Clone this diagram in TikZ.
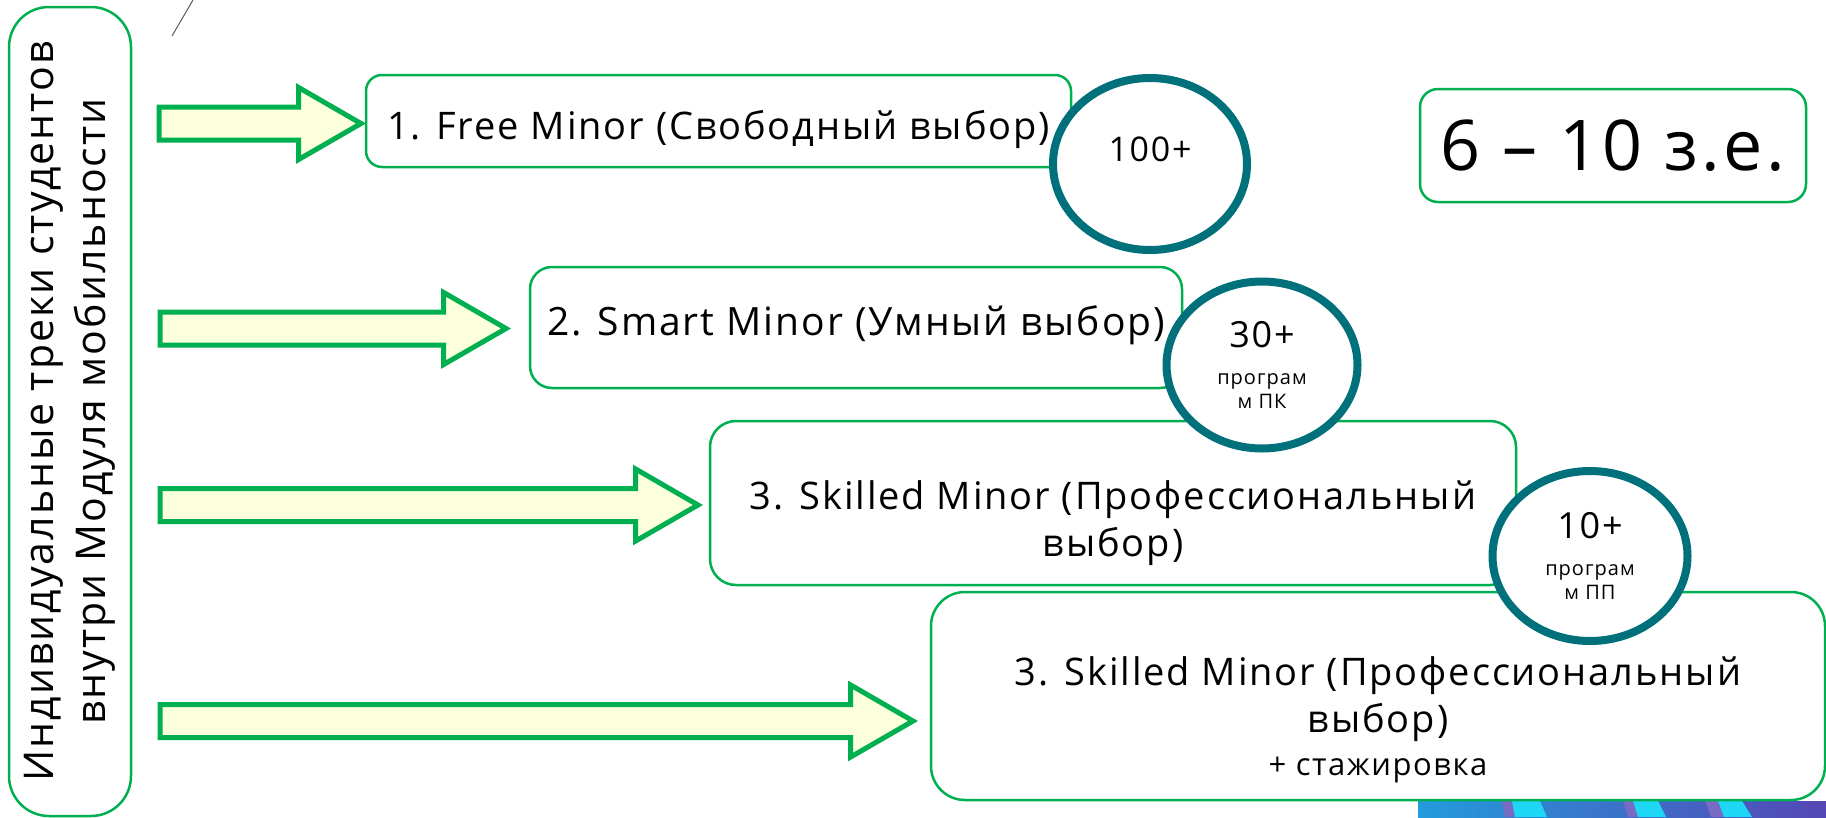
\documentclass[tikz,border=0pt]{standalone}
\usepackage{fontspec}
\setmainfont[LetterSpace=5]{Open Sans}
\usetikzlibrary{shapes.geometric,shapes.arrows}
\definecolor{trackgreen}{RGB}{0,176,80}
\definecolor{arrowfill}{RGB}{252,255,220}
\definecolor{ringteal}{RGB}{0,112,122}
\definecolor{stripeblue}{RGB}{35,155,220}
\definecolor{stripeviolet}{RGB}{85,70,180}
\definecolor{stripecyan}{RGB}{30,215,245}
\newcommand{\fsz}[2]{\fontsize{#1}{#2}\selectfont}
\tikzstyle{track}=[draw=trackgreen, line width=2.5pt, fill=white, rounded corners=18pt, inner sep=0, align=center]
\tikzstyle{ring}=[draw=ringteal, line width=8pt, fill=white, ellipse, inner sep=0, align=center]
\tikzstyle{bigarrow}=[draw=trackgreen, line width=5pt, fill=arrowfill, single arrow,
                      single arrow tip angle=60, single arrow head extend=19.5pt,
                      inner xsep=0, inner ysep=14pt, anchor=tail]

\begin{document}
\begin{tikzpicture}[x=1pt, y=-1pt]
        \useasboundingbox (0,0) rectangle (1826,817);
        % decoration at the bottom edge
        \shade[left color=stripeblue, right color=stripeviolet] (1418,801) rectangle (1826,817);
        \fill[stripeviolet!80] (1502,801) -- (1512,801) -- (1515,817) -- (1505,817) -- cycle;
        \fill[stripecyan] (1512,801) -- (1540,801) -- (1547,817) -- (1515,817) -- cycle;
        \fill[stripeviolet!80] (1623,801) -- (1633,801) -- (1638,817) -- (1628,817) -- cycle;
        \fill[stripecyan] (1633,801) -- (1658,801) -- (1666,817) -- (1638,817) -- cycle;
        \fill[stripeviolet!80] (1705,801) -- (1718,801) -- (1724,817) -- (1711,817) -- cycle;
        \fill[stripecyan] (1718,801) -- (1742,801) -- (1752,817) -- (1724,817) -- cycle;
        \draw[black!65, line width=1pt] (172,36) -- (193,0);
        % left box
        \node[track, rounded corners=40pt, rotate=90, minimum width=809pt, minimum height=122pt,
              font=\fsz{41}{52}] (side) at (70,411.5)
              {Индивидуальные треки студентов\\внутри Модуля мобильности};
        % tracks
        \node[track, rounded corners=16pt, minimum width=705pt, minimum height=92pt,
              label={[font=\fsz{38}{44}, yshift=-9pt]center:1. Free Minor (Свободный выбор)}] (freeMinor) at (718.5,121) {};
        \node[track, rounded corners=22pt, minimum width=652pt, minimum height=121pt,
              label={[font=\fsz{39}{47}, yshift=2pt]center:2. Smart Minor (Умный выбор)}] (smartMinor) at (856,327.5) {};
        \node[track, rounded corners=26pt, minimum width=806pt, minimum height=164pt,
              label={[font=\fsz{38}{47}, align=center, yshift=-20pt]center:{3. Skilled Minor (Профессиональный\\выбор)}}] (skilledMinor) at (1113,503) {};
        \node[track, rounded corners=34pt, minimum width=894pt, minimum height=208pt,
              label={[font=\fsz{38}{47}, align=center, yshift=-24pt]center:{3. Skilled Minor (Профессиональный\\выбор)\\[-4pt]{\fsz{31}{36}+ стажировка}}}] (internMinor) at (1378,696) {};
        \node[track, rounded corners=18pt, minimum width=386pt, minimum height=113pt,
              font=\fsz{70}{80}] (credits) at (1613,145.5) {6 – 10 з.е.};
        % arrows
        \node[bigarrow, minimum height=202pt] (aFree) at (156.5,123.5) {};
        \node[bigarrow, minimum height=346pt] (aSmart) at (157.5,328.5) {};
        \node[bigarrow, minimum height=538pt] (aSkilled) at (157.5,505) {};
        \node[bigarrow, minimum height=753pt] (aIntern) at (157.5,721) {};
        % program counts
        \node[ring, minimum width=194pt, minimum height=172pt,
              label={[font=\fsz{34}{38}, yshift=15pt]center:100+}] (cFree) at (1150,164) {};
        \node[ring, minimum width=191pt, minimum height=167pt, font=\fsz{20}{24}] (cSmart) at (1262,365)
              {{\fsz{36}{40}30+}\\[13pt]програм\\м ПК};
        \node[ring, minimum width=195pt, minimum height=170pt, font=\fsz{20}{24}] (cSkilled) at (1590,556)
              {{\fsz{36}{40}10+}\\[13pt]програм\\м ПП};
    \end{tikzpicture}
\end{document}
